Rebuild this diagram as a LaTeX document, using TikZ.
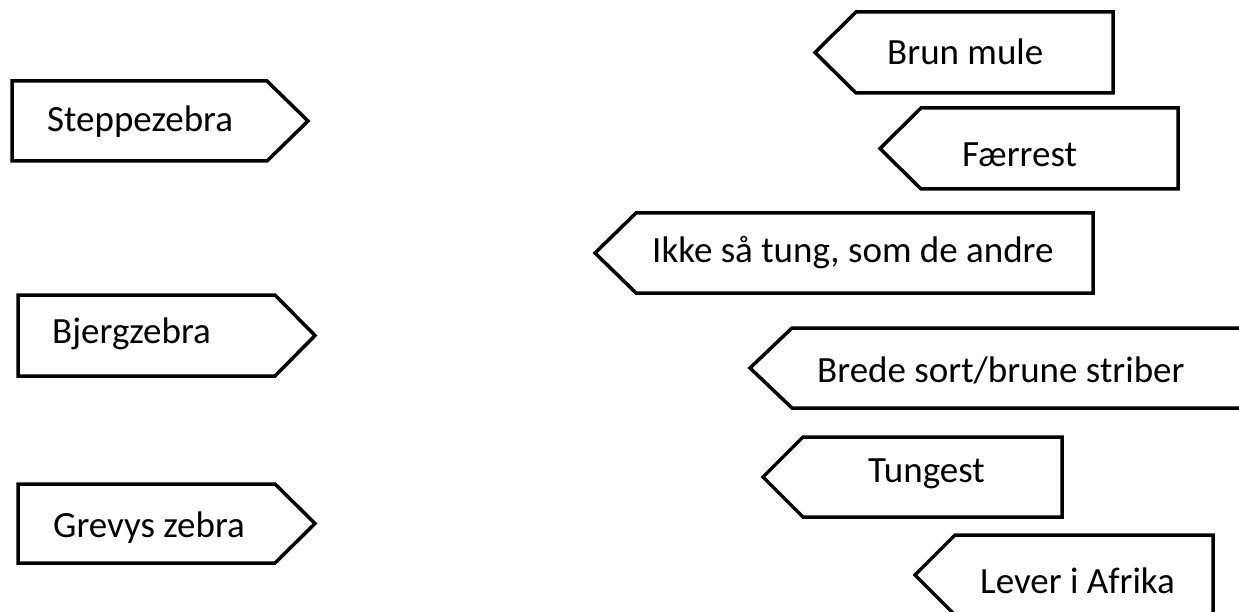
\documentclass[tikz,border=0pt]{standalone}
\usepackage{fontspec}
\setmainfont{Carlito}
\usepackage{tikz}

\begin{document}
\begin{tikzpicture}[
    x=1pt, y=-1pt,
    skilt/.style={line width=3.5pt, line join=miter},
    tekst/.style={anchor=base west, inner sep=0pt, font=\fontsize{37}{41}\selectfont}
]
\useasboundingbox (0,0) rectangle (1239,612);
\clip (0,0) rectangle (1239,612);

% skilte mod hoejre
\draw[skilt] (12,81) -- (267,81) -- (308,121) -- (267,161) -- (12,161) -- cycle;
\draw[skilt] (18,295) -- (275,295) -- (315,335.5) -- (275,376) -- (18,376) -- cycle;
\draw[skilt] (18,484) -- (275,484) -- (315,523.5) -- (275,563) -- (18,563) -- cycle;

% skilte mod venstre
\draw[skilt] (815,52.5) -- (856,12) -- (1113,12) -- (1113,93) -- (856,93) -- cycle;
\draw[skilt] (880,148.5) -- (921,108) -- (1178,108) -- (1178,189) -- (921,189) -- cycle;
\draw[skilt] (595,253) -- (636,213) -- (1093,213) -- (1093,293) -- (636,293) -- cycle;
\draw[skilt] (750,368) -- (792,328) -- (1260,328) -- (1260,408) -- (792,408) -- cycle;
\draw[skilt] (763,477) -- (803,437) -- (1062,437) -- (1062,517) -- (803,517) -- cycle;
\draw[skilt] (915,575) -- (955,535) -- (1213,535) -- (1213,615) -- (955,615) -- cycle;

\node[tekst] (steppe) at (47,132) {Steppezebra};
\node[tekst] (bjerg) at (52,343) {Bjergzebra};
\node[tekst] (grevy) at (53,537) {Grevys zebra};

\node[tekst] (mule) at (887,65) {Brun mule};
\node[tekst] (faerrest) at (962,167) {Færrest};
\node[tekst] (tung) at (652,263) {Ikke så tung, som de andre};
\node[tekst] (striber) at (817,382) {Brede sort/brune striber};
\node[tekst] (tungest) at (868,482) {Tungest};
\node[tekst] (afrika) at (980,593) {Lever i Afrika};
\end{tikzpicture}
\end{document}
